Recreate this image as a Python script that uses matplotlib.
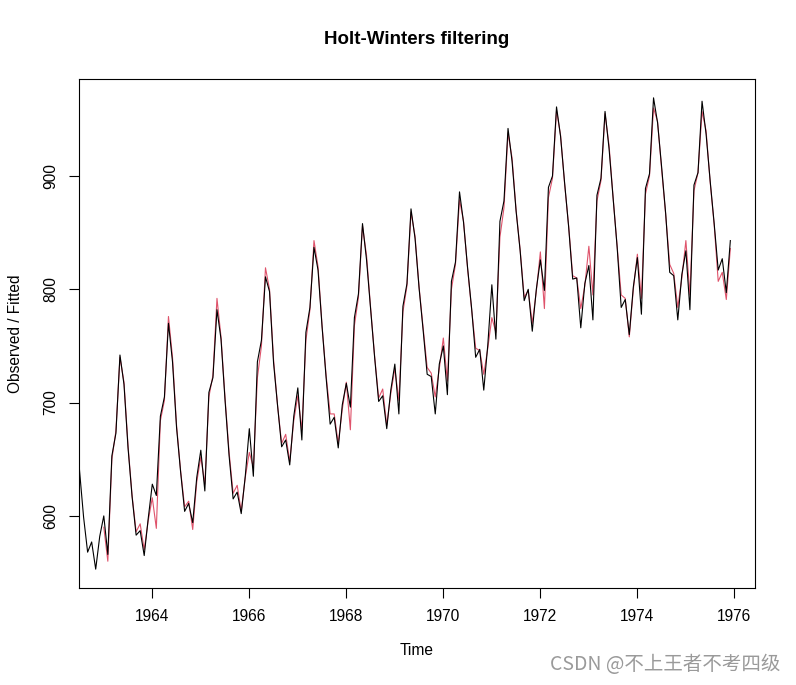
import numpy as np
import matplotlib
matplotlib.use("Agg")
import matplotlib.pyplot as plt

# monthly observed series, Jan 1962 - Dec 1975
observed = [
    589, 561, 640, 656, 727, 697, 640, 599, 568, 577, 553, 582,
    600, 566, 653, 673, 742, 716, 660, 617, 583, 587, 565, 598,
    628, 618, 688, 705, 770, 736, 678, 639, 604, 611, 594, 634,
    658, 622, 709, 722, 782, 756, 702, 653, 615, 621, 602, 635,
    677, 635, 736, 755, 811, 798, 735, 697, 661, 667, 645, 688,
    713, 667, 762, 784, 837, 817, 767, 722, 681, 687, 660, 698,
    717, 696, 775, 796, 858, 826, 783, 740, 701, 706, 677, 711,
    734, 690, 785, 805, 871, 845, 801, 764, 725, 723, 690, 734,
    750, 707, 807, 824, 886, 859, 819, 783, 740, 747, 711, 751,
    804, 756, 860, 878, 942, 913, 869, 834, 790, 800, 763, 800,
    826, 799, 890, 900, 961, 935, 894, 855, 809, 810, 766, 805,
    821, 773, 883, 898, 957, 924, 881, 837, 784, 791, 760, 802,
    828, 778, 889, 902, 969, 947, 908, 867, 815, 812, 773, 813,
    834, 782, 892, 903, 966, 937, 896, 858, 817, 827, 797, 843,
]
obs_start = 1962.0

# Holt-Winters fitted values, Jan 1963 - Dec 1975
fitted = [
    590, 560, 650, 675, 740, 718, 662, 618, 586, 593, 570, 596,
    616, 589, 684, 702, 776, 740, 680, 640, 608, 613, 588, 630,
    652, 628, 705, 724, 792, 758, 704, 656, 620, 627, 604, 634,
    656, 643, 722, 750, 819, 800, 738, 697, 664, 672, 648, 684,
    706, 676, 755, 782, 843, 820, 768, 724, 690, 690, 664, 694,
    718, 676, 768, 793, 856, 830, 784, 741, 704, 712, 680, 708,
    730, 702, 780, 803, 868, 847, 802, 766, 731, 726, 705, 730,
    757, 719, 800, 822, 879, 860, 818, 782, 748, 746, 725, 748,
    775, 762, 846, 872, 938, 916, 870, 835, 793, 799, 770, 798,
    833, 783, 881, 898, 958, 936, 893, 856, 812, 810, 783, 803,
    838, 795, 878, 896, 955, 927, 881, 838, 795, 792, 758, 800,
    831, 792, 884, 900, 960, 948, 906, 866, 822, 814, 784, 810,
    843, 795, 887, 903, 957, 940, 895, 857, 807, 815, 791, 836,
]
fit_start = 1963.0

xticks = [1964, 1966, 1968, 1970, 1972, 1974, 1976]
yticks = [600, 700, 800, 900]

plt.rcParams["font.family"] = ["Liberation Sans", "DejaVu Sans"]

t_obs = obs_start + np.arange(len(observed)) / 12
t_fit = fit_start + np.arange(len(fitted)) / 12

fig = plt.figure(figsize=(7.96, 6.85), dpi=100)
ax = fig.add_axes([0.0989, 0.1416, 0.8501, 0.7431])

ax.plot(t_fit, fitted, color="#DF536B", lw=0.8)
ax.plot(t_obs, observed, color="black", lw=0.8)

# R style padding (4%) around the fitted period
x0, x1 = t_fit[0], t_fit[-1]
pad = (x1 - x0) * 0.04
ax.set_xlim(x0 - pad, x1 + pad)
allv = observed + fitted
y0, y1 = min(allv), max(allv)
ypad = (y1 - y0) * 0.04
ax.set_ylim(y0 - ypad, y1 + ypad)

ax.set_xticks(xticks)
ax.set_xticklabels([str(v) for v in xticks])
ax.set_yticks(yticks)
ax.set_yticklabels([str(v) for v in yticks], rotation=90, va="center")
ax.tick_params(axis="both", direction="out", length=7, width=0.8,
               labelsize=11.2, pad=8)
for s in ax.spines.values():
    s.set_linewidth(0.8)

ax.set_xlabel("Time", fontsize=11.2, labelpad=14)
ax.set_ylabel("Observed / Fitted", fontsize=11.2, labelpad=14)
# title centred over the plot region, as R does
ax.text(0.5, 1 + 39 / 509, "Holt-Winters filtering", transform=ax.transAxes,
        fontsize=13.5, fontweight="bold", ha="center", va="center")

fig.text(0.98, 0.015, "CSDN @不上王者不考四级", fontsize=14, color="#9a9a9a",
         ha="right", va="bottom",
         family=["Noto Sans CJK SC", "DejaVu Sans"])

fig.savefig("out.png", dpi=100)
